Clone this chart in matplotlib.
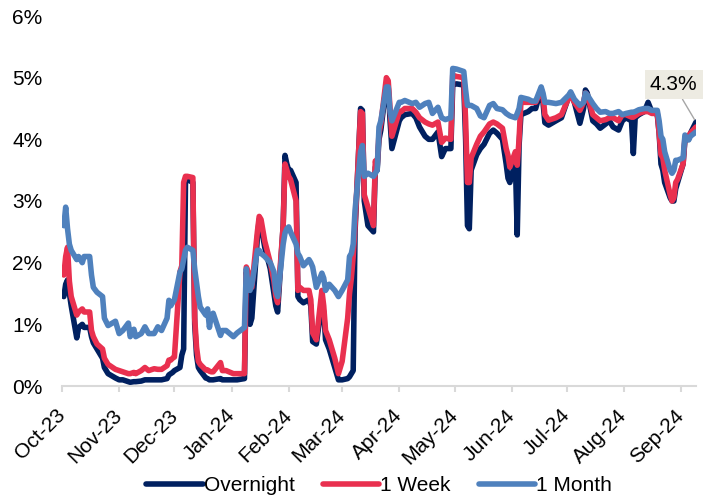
import matplotlib
matplotlib.use("Agg")
import matplotlib.pyplot as plt
import matplotlib.dates as mdates
import numpy as np
from matplotlib.ticker import FuncFormatter

plt.rcParams["font.family"] = ["Liberation Sans", "DejaVu Sans"]

DATES = [
    "2023-10-02", "2023-10-03", "2023-10-04", "2023-10-05", "2023-10-06", "2023-10-09",
    "2023-10-10", "2023-10-12", "2023-10-13", "2023-10-16", "2023-10-17", "2023-10-18",
    "2023-10-20", "2023-10-23", "2023-10-24", "2023-10-26", "2023-10-30", "2023-11-01",
    "2023-11-03", "2023-11-06", "2023-11-07", "2023-11-09", "2023-11-10", "2023-11-13",
    "2023-11-15", "2023-11-17", "2023-11-20", "2023-11-22", "2023-11-24", "2023-11-27",
    "2023-11-28", "2023-11-29", "2023-11-30", "2023-12-01", "2023-12-04", "2023-12-05",
    "2023-12-06", "2023-12-07", "2023-12-08", "2023-12-11", "2023-12-12", "2023-12-13",
    "2023-12-14", "2023-12-15", "2023-12-18", "2023-12-19", "2023-12-20", "2023-12-21",
    "2023-12-22", "2023-12-26", "2023-12-27", "2023-12-29", "2024-01-02", "2024-01-04",
    "2024-01-08", "2024-01-09", "2024-01-10", "2024-01-11", "2024-01-12", "2024-01-15",
    "2024-01-16", "2024-01-17", "2024-01-19", "2024-01-22", "2024-01-24", "2024-01-25",
    "2024-01-26", "2024-01-29", "2024-01-30", "2024-01-31", "2024-02-01", "2024-02-02",
    "2024-02-05", "2024-02-06", "2024-02-07", "2024-02-09", "2024-02-12", "2024-02-13",
    "2024-02-14", "2024-02-16", "2024-02-19", "2024-02-20", "2024-02-21", "2024-02-23",
    "2024-02-26", "2024-02-28", "2024-03-01", "2024-03-04", "2024-03-05", "2024-03-06",
    "2024-03-07", "2024-03-08", "2024-03-11", "2024-03-12", "2024-03-13", "2024-03-15",
    "2024-03-18", "2024-03-19", "2024-03-20", "2024-03-21", "2024-03-22", "2024-03-25",
    "2024-03-26", "2024-03-27", "2024-03-28", "2024-04-01", "2024-04-02", "2024-04-04",
    "2024-04-08", "2024-04-10", "2024-04-12", "2024-04-15", "2024-04-17", "2024-04-19",
    "2024-04-22", "2024-04-24", "2024-04-26", "2024-04-29", "2024-04-30", "2024-05-02",
    "2024-05-06", "2024-05-07", "2024-05-08", "2024-05-09", "2024-05-10", "2024-05-13",
    "2024-05-15", "2024-05-17", "2024-05-20", "2024-05-22", "2024-05-24", "2024-05-27",
    "2024-05-29", "2024-05-30", "2024-05-31", "2024-06-03", "2024-06-04", "2024-06-05",
    "2024-06-06", "2024-06-10", "2024-06-12", "2024-06-14", "2024-06-17", "2024-06-18",
    "2024-06-19", "2024-06-21", "2024-06-25", "2024-06-28", "2024-07-02", "2024-07-03",
    "2024-07-05", "2024-07-08", "2024-07-10", "2024-07-11", "2024-07-12", "2024-07-15",
    "2024-07-17", "2024-07-19", "2024-07-22", "2024-07-24", "2024-07-26", "2024-07-29",
    "2024-07-31", "2024-08-02", "2024-08-05", "2024-08-06", "2024-08-07", "2024-08-09",
    "2024-08-12", "2024-08-14", "2024-08-16", "2024-08-19", "2024-08-20", "2024-08-21",
    "2024-08-22", "2024-08-23", "2024-08-26", "2024-08-27", "2024-08-28", "2024-08-29",
    "2024-08-30", "2024-09-02", "2024-09-03", "2024-09-04", "2024-09-05", "2024-09-06",
    "2024-09-09",
]

# rates in %
OVERNIGHT = [
    1.45, 1.65, 1.72, 1.5, 1.3, 0.78,
    0.95, 1.0, 0.95, 0.95, 0.8, 0.7,
    0.6, 0.45, 0.3, 0.2, 0.13, 0.1,
    0.1, 0.07, 0.06, 0.07, 0.07, 0.08,
    0.1, 0.1, 0.1, 0.1, 0.1, 0.12,
    0.18, 0.2, 0.22, 0.25, 0.3, 0.5,
    0.6, 3.3, 3.35, 3.3, 1.0, 0.5,
    0.3, 0.25, 0.13, 0.12, 0.1, 0.1,
    0.1, 0.12, 0.1, 0.1, 0.1, 0.1,
    0.12, 1.85, 1.6, 1.0, 1.1, 2.4,
    2.7, 2.6, 2.25, 1.9, 1.5, 1.3,
    1.2, 2.6, 3.74, 3.6, 3.5, 3.5,
    3.3, 1.45, 1.4, 1.35, 1.4, 1.3,
    0.72, 0.68, 1.35, 1.2, 0.75, 0.6,
    0.3, 0.1, 0.1, 0.12, 0.15, 0.2,
    0.25, 2.5, 4.5, 4.47, 3.0, 2.6,
    2.5, 3.55, 3.5, 4.0, 4.15, 4.9,
    4.85, 4.3, 3.85, 4.3, 4.35, 4.4,
    4.42, 4.35, 4.2, 4.05, 4.0, 4.0,
    4.12, 3.72, 3.85, 3.85, 4.88, 4.9,
    4.88, 4.0, 2.6, 2.55, 3.5, 3.75,
    3.85, 3.92, 4.1, 4.15, 4.1, 4.0,
    3.6, 3.37, 3.3, 3.63, 2.45, 3.9,
    4.4, 4.45, 4.5, 4.5, 4.82, 4.6,
    4.27, 4.23, 4.3, 4.35, 4.7, 4.75,
    4.6, 4.26, 4.5, 4.8, 4.75, 4.3,
    4.25, 4.18, 4.25, 4.3, 4.2, 4.15,
    4.3, 4.35, 4.3, 3.77, 4.35, 4.4,
    4.45, 4.6, 4.45, 4.4, 4.1, 3.6,
    3.5, 3.3, 3.05, 3.0, 3.0, 3.2,
    3.3, 3.6, 3.99, 4.0, 4.0, 4.1,
    4.28,
]

ONE_WEEK = [
    1.8, 2.1, 2.25, 1.7, 1.45, 1.15,
    1.2, 1.25, 1.2, 1.2, 0.9, 0.8,
    0.68, 0.6, 0.45, 0.35, 0.27, 0.25,
    0.23, 0.2, 0.2, 0.22, 0.2, 0.25,
    0.3, 0.25, 0.28, 0.27, 0.27, 0.33,
    0.42, 0.42, 0.45, 0.47, 1.85, 1.95,
    3.3, 3.4, 3.4, 3.38, 1.1, 0.63,
    0.4, 0.35, 0.26, 0.26, 0.24, 0.23,
    0.23, 0.38, 0.25, 0.25, 0.2, 0.2,
    0.2, 1.93, 1.85, 1.6, 1.6, 2.5,
    2.75, 2.7, 2.35, 2.0, 1.7, 1.45,
    1.35, 2.6, 3.6, 3.5, 3.4, 3.35,
    3.0, 1.55, 1.6, 1.55, 1.55, 1.4,
    0.86, 0.75, 1.55, 1.3, 0.9, 0.75,
    0.45, 0.2, 0.4, 1.1, 1.5, 1.75,
    2.1, 2.6, 4.45, 4.42, 3.1, 2.9,
    2.6, 3.65, 3.55, 4.1, 4.25, 5.0,
    4.95, 4.5, 4.05, 4.45, 4.45, 4.5,
    4.5, 4.44, 4.35, 4.28, 4.25, 4.23,
    4.28, 3.95, 4.02, 4.0, 5.04, 5.02,
    5.0, 4.3, 3.3, 3.3, 3.7, 3.92,
    4.05, 4.12, 4.25, 4.28, 4.25, 4.18,
    3.85, 3.74, 3.55, 3.8, 3.58, 4.0,
    4.6, 4.6, 4.6, 4.6, 4.8, 4.7,
    4.4, 4.31, 4.35, 4.4, 4.68, 4.72,
    4.6, 4.47, 4.6, 4.75, 4.72, 4.4,
    4.35, 4.3, 4.32, 4.35, 4.35, 4.3,
    4.4, 4.4, 4.36, 4.36, 4.38, 4.42,
    4.45, 4.45, 4.42, 4.42, 4.1, 3.75,
    3.7, 3.5, 3.1, 3.0, 3.05, 3.3,
    3.35, 3.6, 4.03, 4.05, 4.05, 4.1,
    4.2,
]

ONE_MONTH = [
    2.6, 2.9, 2.55, 2.3, 2.2, 2.05,
    2.1, 2.0, 2.1, 2.1, 1.8, 1.6,
    1.52, 1.45, 1.1, 0.98, 1.05, 0.85,
    0.9, 1.02, 0.8, 0.92, 0.8, 0.85,
    0.96, 0.85, 0.85, 0.96, 0.9, 1.1,
    1.39, 1.3, 1.35, 1.4, 1.85, 1.9,
    2.05, 2.2, 2.25, 2.2, 1.9, 1.67,
    1.45, 1.28, 1.15, 1.25, 0.95, 1.15,
    1.18, 0.82, 0.9, 0.9, 0.8, 0.86,
    0.95, 1.9, 1.6, 1.55, 1.65, 2.2,
    2.2, 2.15, 2.1, 2.0, 1.85, 1.55,
    1.45, 2.3, 2.48, 2.55, 2.58, 2.5,
    2.3, 2.15, 2.1, 1.95, 2.05, 2.0,
    1.93, 1.6, 1.83, 1.75, 1.55, 1.65,
    1.55, 1.45, 1.55, 1.72, 2.1, 2.15,
    2.3, 2.85, 3.8, 3.9, 3.4, 3.45,
    3.4, 3.45, 3.5, 4.2, 4.3, 4.85,
    4.85, 4.45, 4.3, 4.6, 4.6, 4.63,
    4.58, 4.6, 4.52, 4.58, 4.6, 4.42,
    4.52, 4.35, 4.32, 4.35, 5.15, 5.14,
    5.1, 4.8, 4.55, 4.55, 4.55, 4.5,
    4.38, 4.35, 4.55, 4.58, 4.5, 4.48,
    4.42, 4.4, 4.38, 4.35, 4.42, 4.5,
    4.68, 4.65, 4.62, 4.62, 4.85, 4.75,
    4.6, 4.6, 4.58, 4.6, 4.72, 4.77,
    4.65, 4.55, 4.6, 4.75, 4.72, 4.58,
    4.5, 4.44, 4.45, 4.42, 4.42, 4.45,
    4.4, 4.42, 4.44, 4.44, 4.45, 4.48,
    4.5, 4.5, 4.47, 4.47, 4.3, 4.05,
    4.0, 3.8, 3.5, 3.45, 3.5, 3.66,
    3.66, 3.7, 4.07, 4.0, 3.99, 4.05,
    4.12,
]

SERIES_NAMES = ["Overnight", "1 Week", "1 Month"]
COLORS = ["#002060", "#E9304F", "#4F81BD"]
AXIS_START = "2023-10-01"


def main():
    dates = np.array(DATES, dtype="datetime64[D]")
    fig = plt.figure(figsize=(7.08, 4.99), dpi=100)
    ax = fig.add_axes([62 / 708, 1 - 386 / 499, (696 - 62) / 708, (386 - 16) / 499])

    for name, vals, color in zip(SERIES_NAMES, [OVERNIGHT, ONE_WEEK, ONE_MONTH], COLORS):
        ax.plot(dates, vals, color=color, lw=4.0, label=name,
                solid_joinstyle="round", solid_capstyle="round")

    ax.set_ylim(0, 6)
    ax.set_xlim(np.datetime64(AXIS_START), dates[-1])
    ax.yaxis.set_major_formatter(FuncFormatter(lambda v, _: f"{v:.0f}%"))
    ax.xaxis.set_major_locator(mdates.MonthLocator())
    ax.xaxis.set_major_formatter(mdates.DateFormatter("%b-%y"))

    for side in ["top", "right", "left"]:
        ax.spines[side].set_visible(False)
    ax.spines["bottom"].set_color("#D9D9D9")
    ax.spines["bottom"].set_linewidth(1.5)

    ax.tick_params(axis="y", length=0, pad=14, labelsize=15)
    ax.tick_params(axis="x", length=4, width=1.5, color="#D9D9D9", labelsize=15, pad=15)
    for lab in ax.get_xticklabels():
        lab.set_rotation(45)
        lab.set_ha("right")
        lab.set_va("center")
        lab.set_rotation_mode("anchor")

    ax.annotate(f"{OVERNIGHT[-1]:.1f}%", xy=(dates[-1], OVERNIGHT[-1]),
                xytext=(-16, 27), textcoords="offset points",
                ha="center", va="center", fontsize=15,
                bbox=dict(boxstyle="square,pad=0.25", fc="#EDEBE2", ec="none"),
                arrowprops=dict(arrowstyle="-", color="#A6A6A6", lw=1,
                                shrinkA=0, shrinkB=2))

    ax.legend(loc="center", bbox_to_anchor=(0.5, -0.27), ncol=3, frameon=False,
              fontsize=15, handlelength=2.7, handletextpad=0.05, columnspacing=1.35)

    fig.savefig("out.png", dpi=100)


if __name__ == "__main__":
    main()
